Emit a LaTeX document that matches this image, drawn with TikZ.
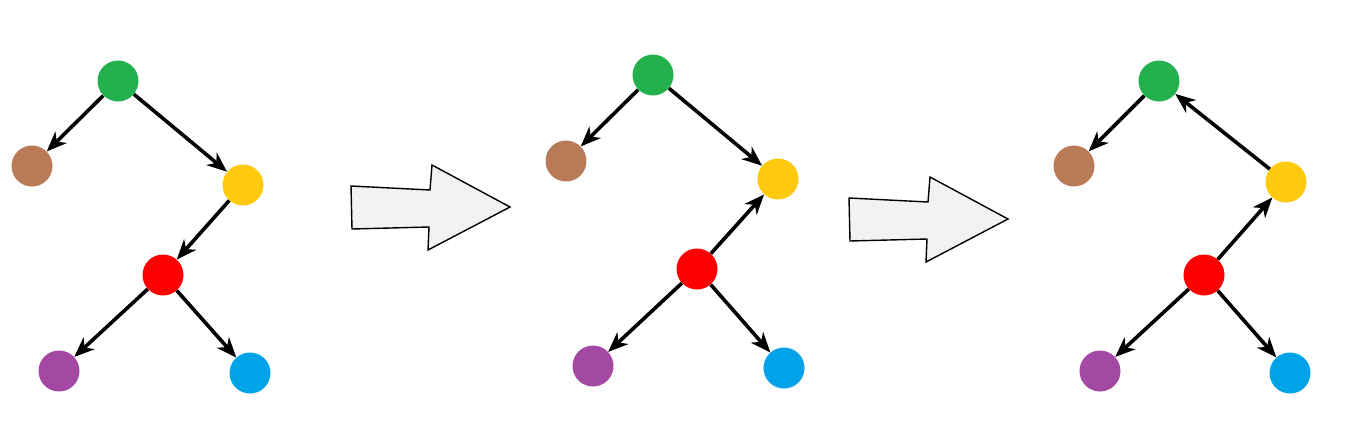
\documentclass[tikz,border=0pt]{standalone}
\usepackage{tikz}
\usetikzlibrary{arrows.meta}
\definecolor{tgreen}{HTML}{22B14C}
\definecolor{tbrown}{HTML}{B97A57}
\definecolor{tyellow}{HTML}{FFC90E}
\definecolor{tred}{HTML}{FF0000}
\definecolor{tpurple}{HTML}{A349A4}
\definecolor{tblue}{HTML}{00A2E8}
\definecolor{arrowfill}{HTML}{F2F2F2}
\tikzset{vertex/.style={circle,inner sep=0,minimum size=41pt},
  edge/.style={line width=3.6pt,-{Stealth[length=20pt,width=16pt,inset=6pt]}},
  bigarrow/.style={fill=arrowfill,draw=black,line width=1.4pt,line join=miter}}

\begin{document}
\begin{tikzpicture}[x=1pt,y=-1pt]
          \useasboundingbox (0,0) rectangle (1370,432);

          %1つ目の木
          \node[vertex,fill=tgreen] (green1) at (118,81) {};
          \node[vertex,fill=tbrown] (brown1) at (32,166) {};
          \node[vertex,fill=tyellow] (yellow1) at (243,185) {};
          \node[vertex,fill=tred] (red1) at (163,275) {};
          \node[vertex,fill=tpurple] (purple1) at (59,371) {};
          \node[vertex,fill=tblue] (blue1) at (250,373) {};
          \draw[edge] (green1) -- (brown1);
          \draw[edge] (green1) -- (yellow1);
          \draw[edge] (yellow1) -- (red1);
          \draw[edge] (red1) -- (purple1);
          \draw[edge] (red1) -- (blue1);

          %矢印1
          \draw[bigarrow] (351,186) -- (430,190) -- (432,165) -- (510,207)
            -- (428,250) -- (429,227) -- (352,229) -- cycle;

          %2つ目の木
          \node[vertex,fill=tgreen] (green2) at (653,75) {};
          \node[vertex,fill=tbrown] (brown2) at (566,161) {};
          \node[vertex,fill=tyellow] (yellow2) at (778,179) {};
          \node[vertex,fill=tred] (red2) at (697,269) {};
          \node[vertex,fill=tpurple] (purple2) at (593,366) {};
          \node[vertex,fill=tblue] (blue2) at (784,368) {};
          \draw[edge] (green2) -- (brown2);
          \draw[edge] (green2) -- (yellow2);
          \draw[edge] (red2) -- (yellow2);
          \draw[edge] (red2) -- (purple2);
          \draw[edge] (red2) -- (blue2);

          %矢印2
          \draw[bigarrow] (849,198) -- (928,202) -- (930,177) -- (1008,219)
            -- (926,262) -- (927,239) -- (850,241) -- cycle;

          %3つ目の木
          \node[vertex,fill=tgreen] (green3) at (1159,81) {};
          \node[vertex,fill=tbrown] (brown3) at (1074,166) {};
          \node[vertex,fill=tyellow] (yellow3) at (1286,182) {};
          \node[vertex,fill=tred] (red3) at (1204,275) {};
          \node[vertex,fill=tpurple] (purple3) at (1100,371) {};
          \node[vertex,fill=tblue] (blue3) at (1290,373) {};
          \draw[edge] (green3) -- (brown3);
          \draw[edge] (yellow3) -- (green3);
          \draw[edge] (red3) -- (yellow3);
          \draw[edge] (red3) -- (purple3);
          \draw[edge] (red3) -- (blue3);

        \end{tikzpicture}
\end{document}
